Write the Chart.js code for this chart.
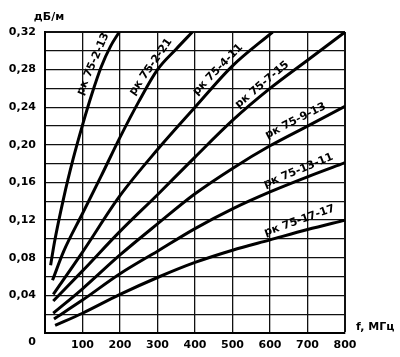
<!DOCTYPE html>
<html><head><meta charset="utf-8">
<script src="https://cdn.jsdelivr.net/npm/chart.js@4.4.1/dist/chart.umd.min.js"></script>
<style>html,body{margin:0;padding:0;background:#fff}</style>
</head><body>
<canvas id="c" width="400" height="357"></canvas>
<script>
// ---- data ----
const seriesNames = ['рк 75-2-13','рк 75-2-21','рк 75-4-11','рк 75-7-15','рк 75-9-13','рк 75-13-11','рк 75-17-17'];

const freq_2_13 = [15, 25, 50, 75, 100, 125, 150, 175, 198];
const att_2_13  = [0.072, 0.096, 0.144, 0.185, 0.221, 0.254, 0.283, 0.305, 0.32];

const freq_2_21 = [20, 50, 100, 150, 200, 250, 300, 350, 393];
const att_2_21  = [0.056, 0.087, 0.127, 0.167, 0.208, 0.246, 0.28, 0.302, 0.32];

const freq_4_11 = [22, 100, 200, 300, 400, 500, 607];
const att_4_11  = [0.041, 0.086, 0.146, 0.195, 0.24, 0.284, 0.32];

const freq_7_15 = [22, 100, 200, 300, 400, 500, 600, 700, 800];
const att_7_15  = [0.034, 0.066, 0.108, 0.147, 0.187, 0.226, 0.26, 0.29, 0.32];

const freq_9_13 = [22, 100, 200, 300, 400, 500, 600, 700, 800];
const att_9_13  = [0.021, 0.047, 0.083, 0.116, 0.148, 0.175, 0.199, 0.22, 0.241];

const freq_13_11 = [24, 100, 200, 300, 400, 500, 600, 700, 800];
const att_13_11  = [0.015, 0.035, 0.063, 0.087, 0.111, 0.132, 0.150, 0.166, 0.181];

const freq_17_17 = [27, 100, 200, 300, 400, 500, 600, 700, 800];
const att_17_17  = [0.008, 0.021, 0.041, 0.059, 0.075, 0.088, 0.099, 0.11, 0.12];

const freqTicks = [100, 200, 300, 400, 500, 600, 700, 800];
const attTicks  = [0.04, 0.08, 0.12, 0.16, 0.20, 0.24, 0.28, 0.32];

const yTitle = 'дБ/м';
const xTitle = 'f, МГц';
const originLabel = '0';

// label placement (data coordinates + rotation)
const labelSpots = [
  {f: 128, v: 0.286, angle: -66.7},
  {f: 282, v: 0.283, angle: -55},
  {f: 461, v: 0.280, angle: -45.6},
  {f: 579, v: 0.264, angle: -40},
  {f: 668, v: 0.2256, angle: -27},
  {f: 676, v: 0.1725, angle: -22.5},
  {f: 679, v: 0.1194, angle: -19.6}
];

const freqs = [freq_2_13, freq_2_21, freq_4_11, freq_7_15, freq_9_13, freq_13_11, freq_17_17];
const atts  = [att_2_13, att_2_21, att_4_11, att_7_15, att_9_13, att_13_11, att_17_17];

const datasets = seriesNames.map((name, i) => ({
  label: name,
  data: freqs[i].map((f, j) => ({x: f, y: atts[i][j]})),
  borderColor: '#000',
  borderWidth: 3,
  pointRadius: 0,
  fill: false,
  tension: 0.4,
  cubicInterpolationMode: 'monotone'
}));

const FONT = 'DejaVu Sans';

const annot = {
  id: 'annot',
  afterDatasetsDraw(chart) {
    const {ctx, scales: {x, y}, chartArea} = chart;
    ctx.save();
    ctx.fillStyle = '#000';
    ctx.font = 'bold 11px "' + FONT + '"';
    ctx.textAlign = 'center';
    ctx.textBaseline = 'middle';
    labelSpots.forEach((s, i) => {
      const px = x.getPixelForValue(s.f), py = y.getPixelForValue(s.v);
      ctx.save();
      ctx.translate(px, py);
      ctx.rotate(s.angle * Math.PI / 180);
      ctx.fillText(seriesNames[i], 0, 0);
      ctx.restore();
    });
    ctx.fillText(yTitle, chartArea.left + 4, chartArea.top - 15);
    ctx.textAlign = 'left';
    ctx.fillText(xTitle, chartArea.right + 11, chartArea.bottom - 6);
    ctx.textAlign = 'right';
    ctx.fillText(originLabel, chartArea.left - 9, chartArea.bottom + 9);
    ctx.restore();
  }
};

new Chart(document.getElementById('c'), {
  type: 'line',
  data: {datasets},
  plugins: [annot],
  options: {
    responsive: false,
    animation: false,
    devicePixelRatio: 1,
    layout: {padding: {top: 32, right: 55, left: 0, bottom: 0}},
    plugins: {legend: {display: false}, tooltip: {enabled: false}},
    scales: {
      x: {
        type: 'linear', min: 0, max: 800,
        afterFit(s) { s.height = 24; },
        border: {color: '#000', width: 2},
        grid: {
          color: '#111',
          drawTicks: false,
          lineWidth: c => (c.tick && c.tick.value === 800) ? 2 : 1.3,
          borderDash: c => (c.tick && (c.tick.value === 100 || c.tick.value === 200)) ? [7, 3] : []
        },
        ticks: {
          stepSize: 100, autoSkip: false, maxRotation: 0, padding: 6, color: '#000',
          font: {family: FONT, size: 11, weight: 'bold'},
          callback: v => freqTicks.includes(v) ? String(v) : ''
        }
      },
      y: {
        type: 'linear', min: 0, max: 0.32,
        afterFit(s) { s.width = 45; },
        border: {color: '#000', width: 2},
        grid: {
          color: '#111',
          drawTicks: false,
          lineWidth: c => (c.tick && Math.round(c.tick.value * 100) === 32) ? 2 : 1.3
        },
        ticks: {
          stepSize: 0.02, autoSkip: false, padding: 9, color: '#000',
          font: {family: FONT, size: 11, weight: 'bold'},
          callback: v => {
            const k = Math.round(v * 100);
            return attTicks.some(t => Math.round(t * 100) === k) ? (k / 100).toFixed(2).replace('.', ',') : '';
          }
        }
      }
    }
  }
});
</script>
</body></html>
